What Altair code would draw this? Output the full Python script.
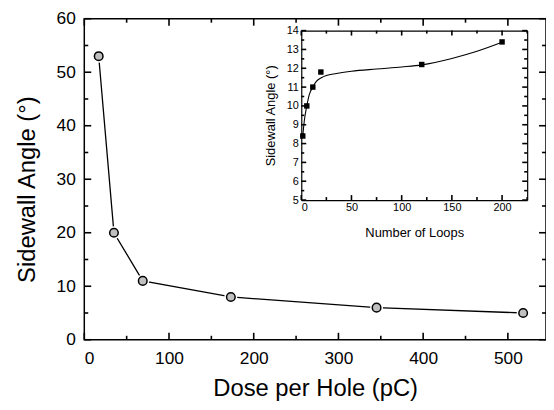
import altair as alt
import pandas as pd

# Main series
dose = [17, 35, 69, 173, 345, 518]
angle = [53, 20, 11, 8, 6, 5]

# Inset series
loops = [1.5, 5.5, 11.5, 19.5, 120, 200]
inset_angle = [8.4, 10.0, 11.0, 11.8, 12.2, 13.4]

# Inset fitted curve
fit_x = [1.5, 3, 5.5, 8, 11.5, 15, 20, 25, 35, 50, 75, 100, 120, 150, 175, 200]
fit_y = [8.4, 9.2, 10.0, 10.6, 11.0, 11.3, 11.5, 11.62, 11.72, 11.84, 11.96, 12.07, 12.18, 12.52, 12.9, 13.38]

# Tick positions
main_x_major = [0, 100, 200, 300, 400, 500]
main_x_minor = [50, 150, 250, 350, 450]
main_y_major = [0, 10, 20, 30, 40, 50, 60]
main_y_minor = [5, 15, 25, 35, 45, 55]
inset_x_major = [0, 50, 100, 150, 200]
inset_x_minor = [25, 75, 125, 175, 225]
inset_y_major = [5, 6, 7, 8, 9, 10, 11, 12, 13, 14]
inset_y_minor = [5.5, 6.5, 7.5, 8.5, 9.5, 10.5, 11.5, 12.5, 13.5]

W, H = 466, 324
TOP = 17  # page y of plot top
FONT = "Liberation Sans"

main_df = pd.DataFrame({"dose": dose, "angle": angle})
inset_df = pd.DataFrame({"loops": loops, "angle": inset_angle})
fit_df = pd.DataFrame({"loops": fit_x, "angle": fit_y})

IX0, IX1 = 304 - 85, 532 - 85
IY0, IY1 = 200 - TOP, 29 - TOP

mx = alt.Scale(domain=[0, 545], nice=False, zero=False)
my = alt.Scale(domain=[0, 60], nice=False, zero=False)
ix = alt.Scale(domain=[0, 225], range=[IX0, IX1], nice=False, zero=False)
iy = alt.Scale(domain=[5, 14], range=[IY0, IY1], nice=False, zero=False)


def xticks(vals, scale, ypix, size, inward_up):
    y2 = ypix - size if inward_up else ypix + size
    return alt.Chart(pd.DataFrame({"v": vals})).mark_rule(color="black", strokeWidth=1.6).encode(
        x=alt.X("v:Q", scale=scale, axis=None),
        y=alt.value(ypix), y2=alt.value(y2))


def yticks(vals, scale, xpix, size, inward_right):
    x2 = xpix + size if inward_right else xpix - size
    return alt.Chart(pd.DataFrame({"v": vals})).mark_rule(color="black", strokeWidth=1.6).encode(
        y=alt.Y("v:Q", scale=scale, axis=None),
        x=alt.value(xpix), x2=alt.value(x2))


# ---------- Main plot ----------
m_line = alt.Chart(main_df).mark_line(color="black", strokeWidth=1.3).encode(
    x=alt.X("dose:Q", scale=mx, axis=alt.Axis(
        orient="bottom", values=main_x_major, ticks=False, domain=False,
        labelFontSize=17.5, labelPadding=10, labelColor="black",
        title="Dose per Hole (pC)", titleFontSize=24, titleY=56, titleBaseline="alphabetic",
        titleColor="black", titleFontWeight="normal")),
    y=alt.Y("angle:Q", scale=my, axis=alt.Axis(
        orient="left", values=main_y_major, ticks=False, domain=False,
        labelFontSize=17.5, labelPadding=9, labelColor="black",
        title="Sidewall Angle (\u00b0)", titleFontSize=24, titleX=-50, titleY=189 - TOP,
        titleBaseline="alphabetic", titleColor="black", titleFontWeight="normal")),
)
m_halo = alt.Chart(main_df).mark_point(filled=True, color="white", size=170, opacity=1).encode(
    x=alt.X("dose:Q", scale=mx, axis=None), y=alt.Y("angle:Q", scale=my, axis=None))
m_pts = alt.Chart(main_df).mark_point(filled=True, fill="#c0c0c0", stroke="black",
                                      strokeWidth=1.5, size=75, opacity=1).encode(
    x=alt.X("dose:Q", scale=mx, axis=None), y=alt.Y("angle:Q", scale=my, axis=None))

main_ticks = [
    xticks(main_x_major, mx, H, 7, True), xticks(main_x_minor, mx, H, 4, True),
    xticks(main_x_major, mx, 0, 7, False), xticks(main_x_minor, mx, 0, 4, False),
    yticks(main_y_major, my, 0, 7, True), yticks(main_y_minor, my, 0, 4, True),
    yticks(main_y_major, my, W, 7, False), yticks(main_y_minor, my, W, 4, False),
]

# ---------- Inset ----------
i_line = alt.Chart(fit_df).mark_line(color="black", strokeWidth=1.1, interpolate="monotone").encode(
    x=alt.X("loops:Q", scale=ix, axis=alt.Axis(
        orient="bottom", offset=IY0 - H, values=inset_x_major, ticks=False, domain=True,
        domainColor="black", domainWidth=1.2,
        labelFontSize=11, labelPadding=2, labelColor="black",
        title="Number of Loops", titleFontSize=13, titleY=37, titleBaseline="alphabetic",
        titleColor="black", titleFontWeight="normal")),
    y=alt.Y("angle:Q", scale=iy, axis=alt.Axis(
        orient="left", offset=-IX0, values=inset_y_major, ticks=False, domain=True,
        domainColor="black", domainWidth=1.2,
        labelFontSize=11, labelPadding=3, labelColor="black",
        title="Sidewall Angle (\u00b0)", titleFontSize=13, titleX=-27,
        titleBaseline="alphabetic", titleColor="black", titleFontWeight="normal")),
)
# Inset frame: top and right edges
i_frame = alt.Chart(inset_df).mark_point(opacity=0).encode(
    x=alt.X("loops:Q", scale=ix, axis=alt.Axis(
        orient="bottom", offset=IY1 - H, values=[], labels=False, ticks=False, domain=True,
        domainColor="black", domainWidth=1.2, title=None)),
    y=alt.Y("angle:Q", scale=iy, axis=alt.Axis(
        orient="left", offset=-IX1, values=[], labels=False, ticks=False, domain=True,
        domainColor="black", domainWidth=1.2, title=None)),
)
i_pts = alt.Chart(inset_df).mark_point(shape="square", filled=True, color="black", size=30, opacity=1).encode(
    x=alt.X("loops:Q", scale=ix, axis=None), y=alt.Y("angle:Q", scale=iy, axis=None))

inset_ticks = [
    xticks(inset_x_major, ix, IY0, 5, True), xticks(inset_x_minor, ix, IY0, 3, True),
    xticks(inset_x_major, ix, IY1, 5, False), xticks(inset_x_minor, ix, IY1, 3, False),
    yticks(inset_y_major, iy, IX0, 5, True), yticks(inset_y_minor, iy, IX0, 3, True),
    yticks(inset_y_major, iy, IX1, 5, False), yticks(inset_y_minor, iy, IX1, 3, False),
]

chart = alt.layer(
    m_line, m_halo, m_pts, i_frame, i_line, i_pts,
    *main_ticks, *inset_ticks,
).resolve_scale(x="independent", y="independent").resolve_axis(
    x="independent", y="independent"
).properties(
    width=W, height=H,
    autosize=alt.AutoSizeParams(type="none"),
    padding={"left": 77, "top": TOP - 8, "right": 0, "bottom": 394 - (TOP - 8) - H},
).configure_view(
    stroke="black", strokeWidth=1.5
).configure_axis(
    labelFont=FONT, titleFont=FONT, grid=False
)

chart.save("out.html", embed_options={"renderer": "svg", "actions": False})
